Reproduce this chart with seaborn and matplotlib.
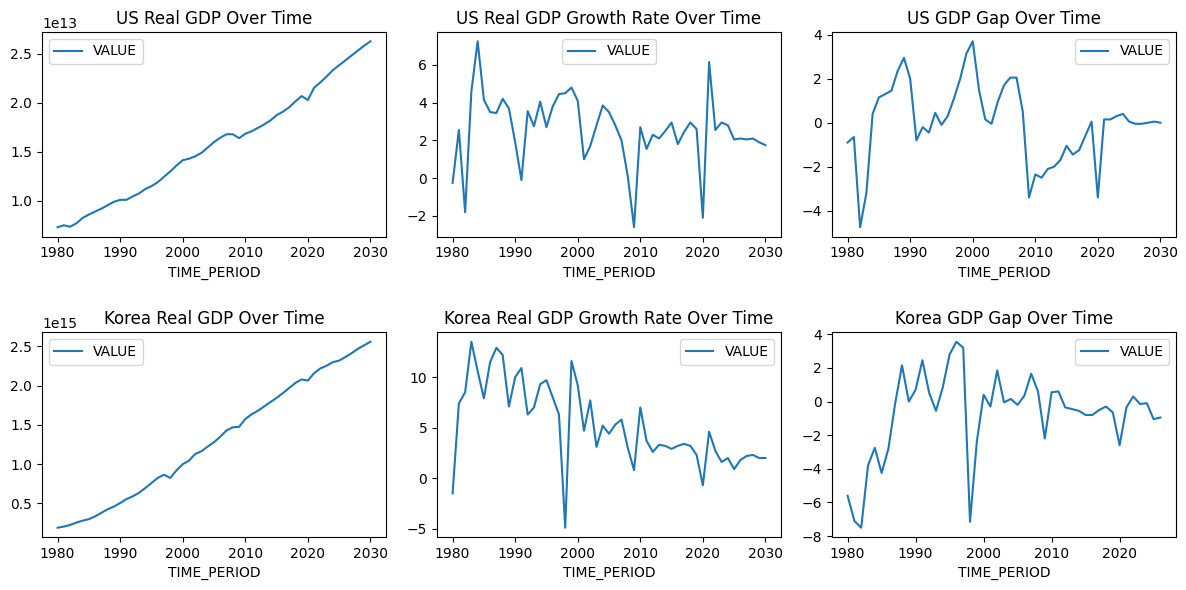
import numpy as np
import pandas as pd
import matplotlib
matplotlib.use("Agg")
import matplotlib.pyplot as plt
import seaborn as sns

# ---------------------- data ---------------------- #
years_full = list(range(1980, 2031))
years_kr_gap = list(range(1980, 2027))

us_gdp = [0.73, 0.75, 0.735, 0.77, 0.825, 0.86, 0.89, 0.92, 0.955, 0.99,
          1.01, 1.01, 1.045, 1.075, 1.12, 1.15, 1.19, 1.245, 1.30, 1.36,
          1.415, 1.43, 1.455, 1.49, 1.545, 1.60, 1.645, 1.68, 1.68, 1.64,
          1.685, 1.71, 1.745, 1.78, 1.82, 1.875, 1.91, 1.955, 2.015, 2.07,
          2.03, 2.155, 2.21, 2.27, 2.335, 2.385, 2.435, 2.485, 2.535, 2.585,
          2.63]  # x 1e13

us_growth = [-0.25, 2.55, -1.8, 4.6, 7.25, 4.15, 3.5, 3.45, 4.2, 3.7,
             1.9, -0.1, 3.55, 2.75, 4.05, 2.7, 3.8, 4.45, 4.5, 4.8,
             4.1, 1.0, 1.7, 2.8, 3.85, 3.5, 2.8, 2.0, 0.1, -2.6,
             2.7, 1.55, 2.3, 2.1, 2.5, 2.95, 1.8, 2.45, 2.95, 2.6,
             -2.1, 6.15, 2.55, 2.95, 2.8, 2.05, 2.1, 2.05, 2.1, 1.9,
             1.75]

us_gap = [-0.9, -0.65, -4.75, -3.2, 0.4, 1.15, 1.3, 1.45, 2.35, 2.95,
          2.0, -0.8, -0.2, -0.45, 0.45, -0.1, 0.3, 1.1, 2.0, 3.15,
          3.7, 1.5, 0.15, -0.05, 0.95, 1.7, 2.05, 2.05, 0.5, -3.4,
          -2.35, -2.5, -2.1, -2.0, -1.7, -1.05, -1.45, -1.25, -0.6, 0.05,
          -3.4, 0.15, 0.15, 0.3, 0.4, 0.05, -0.05, -0.05, 0.0, 0.05,
          0.0]

kr_gdp = [0.19, 0.205, 0.225, 0.255, 0.28, 0.30, 0.335, 0.38, 0.425, 0.46,
          0.505, 0.555, 0.59, 0.635, 0.695, 0.76, 0.825, 0.865, 0.825, 0.92,
          1.00, 1.045, 1.13, 1.165, 1.225, 1.28, 1.35, 1.43, 1.47, 1.475,
          1.575, 1.635, 1.68, 1.735, 1.79, 1.845, 1.905, 1.97, 2.035, 2.08,
          2.065, 2.16, 2.22, 2.255, 2.30, 2.32, 2.365, 2.415, 2.47, 2.515,
          2.56]  # x 1e15

kr_growth = [-1.5, 7.4, 8.5, 13.5, 10.6, 7.9, 11.5, 12.9, 12.2, 7.1,
             10.0, 10.9, 6.3, 7.0, 9.3, 9.7, 8.0, 6.3, -4.9, 11.6,
             9.2, 4.7, 7.7, 3.1, 5.2, 4.4, 5.3, 5.8, 3.0, 0.8,
             7.0, 3.7, 2.6, 3.3, 3.2, 2.9, 3.2, 3.4, 3.2, 2.3,
             -0.7, 4.6, 2.7, 1.6, 2.0, 0.9, 1.8, 2.2, 2.3, 2.0,
             2.0]

kr_gap = [-5.6, -7.1, -7.5, -3.8, -2.75, -4.25, -2.8, -0.1, 2.15, 0.0,
          0.7, 2.45, 0.5, -0.55, 0.85, 2.8, 3.55, 3.2, -7.15, -2.4,
          0.4, -0.3, 1.85, -0.05, 0.15, -0.2, 0.35, 1.65, 0.6, -2.2,
          0.55, 0.6, -0.35, -0.45, -0.55, -0.8, -0.8, -0.5, -0.3, -0.65,
          -2.6, -0.35, 0.3, -0.15, -0.1, -1.05, -0.95]

panels = [
    ("US Real GDP Over Time", years_full, np.array(us_gdp) * 1e13),
    ("US Real GDP Growth Rate Over Time", years_full, us_growth),
    ("US GDP Gap Over Time", years_full, us_gap),
    ("Korea Real GDP Over Time", years_full, np.array(kr_gdp) * 1e15),
    ("Korea Real GDP Growth Rate Over Time", years_full, kr_growth),
    ("Korea GDP Gap Over Time", years_kr_gap, kr_gap),
]

# ---------------------- plot ---------------------- #
fig, axes = plt.subplots(2, 3, figsize=(11.86, 5.9), dpi=100)

for ax, (title, years, values) in zip(axes.flat, panels):
    df = pd.DataFrame({"TIME_PERIOD": years, "VALUE": values})
    sns.lineplot(data=df, x="TIME_PERIOD", y="VALUE", ax=ax, label="VALUE",
                 color="#1f77b4", linewidth=1.5)
    ax.set_title(title)
    ax.set_ylabel("")
    ax.legend(loc="best")

# panel edges measured on the reference
fig.subplots_adjust(left=0.0354, right=0.9916, top=0.9458, bottom=0.0898,
                    wspace=0.148, hspace=0.469)
plt.savefig("out.png")
plt.close()
